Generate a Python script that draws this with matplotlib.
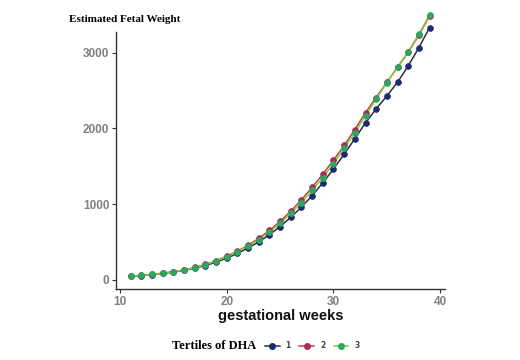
import matplotlib
matplotlib.use("Agg")
import matplotlib.pyplot as plt
from matplotlib.lines import Line2D

weeks = list(range(11, 40))
efw_t1 = [42, 53, 66, 81, 99, 121, 150, 186, 230, 284, 346, 418, 500, 594, 702,
          824, 960, 1110, 1280, 1465, 1660, 1865, 2075, 2260, 2430, 2612, 2828, 3070, 3335]
efw_t2 = [45, 55, 68, 84, 104, 128, 160, 200, 250, 310, 375, 455, 545, 650, 770,
          905, 1055, 1220, 1395, 1580, 1775, 1985, 2210, 2410, 2610, 2810, 3010, 3235, 3490]
efw_t3 = [44, 55, 68, 84, 103, 127, 158, 197, 245, 302, 366, 443, 530, 630, 745,
          875, 1020, 1180, 1350, 1535, 1735, 1945, 2170, 2390, 2605, 2818, 3017, 3248, 3503]
tertile_labels = ["1", "2", "3"]
x_ticks = [10, 20, 30, 40]
y_ticks = [0, 1000, 2000, 3000]

series = [efw_t1, efw_t2, efw_t3]
pt_colors = ["#1f2a70", "#a82c5c", "#2aa860"]
ln_colors = ["#2e2e3e", "#c8403a", "#7fd040"]

fig = plt.figure(figsize=(5.2, 3.6), dpi=100)
ax = fig.add_axes([0.2237, 0.197, 0.8558 - 0.2237, 0.978 - 0.197])

for vals, pc, lc in zip(series, pt_colors, ln_colors):
    ax.plot(weeks, vals, color=lc, lw=1.1, zorder=2)
    ax.plot(weeks, vals, ls="none", marker="o", ms=4.2, mfc=pc, mec=pc,
            mew=0.5, zorder=3)

ax.set_xlim(9.65, 40.45)
ax.set_ylim(-126, 3596)
ax.set_xticks(x_ticks)
ax.set_yticks(y_ticks)
for s in ["top", "right"]:
    ax.spines[s].set_visible(False)
for s in ["left", "bottom"]:
    ax.spines[s].set_color("#333333")
    ax.spines[s].set_linewidth(1.0)
ax.spines["left"].set_bounds(-126, 3280)
ax.tick_params(colors="#333333", length=3, width=0.8, labelsize=8.5,
               labelcolor="#808080", pad=2)
for lab in ax.get_xticklabels() + ax.get_yticklabels():
    lab.set_fontweight("bold")
    lab.set_family("Liberation Sans")

ax.set_xlabel("gestational weeks", fontsize=10.5, fontweight="bold",
              family="Liberation Sans", color="#111111", labelpad=1)

fig.text(69 / 520, 1 - 19 / 360, "Estimated Fetal Weight", family="Liberation Serif",
         fontweight="bold", fontsize=8, va="center", ha="left")

fig.text(172 / 520, 1 - 346 / 360, "Tertiles of DHA", family="Liberation Serif",
         fontweight="bold", fontsize=9, va="center", ha="left")

handles = [Line2D([0], [0], color=lc, marker="o", mfc=pc, mec=pc, ms=4, lw=1.1)
           for pc, lc in zip(pt_colors, ln_colors)]
leg = fig.legend(handles, tertile_labels, loc="center left",
                 bbox_to_anchor=(265 / 520, 1 - 346 / 360), ncol=3, frameon=False,
                 fontsize=5.5, handlelength=1.9, handletextpad=0.8, columnspacing=1.1,
                 borderaxespad=0, borderpad=0)
for t in leg.get_texts():
    t.set_fontweight("bold")
    t.set_color("#444444")

fig.savefig("out.png", dpi=100, facecolor="white")
